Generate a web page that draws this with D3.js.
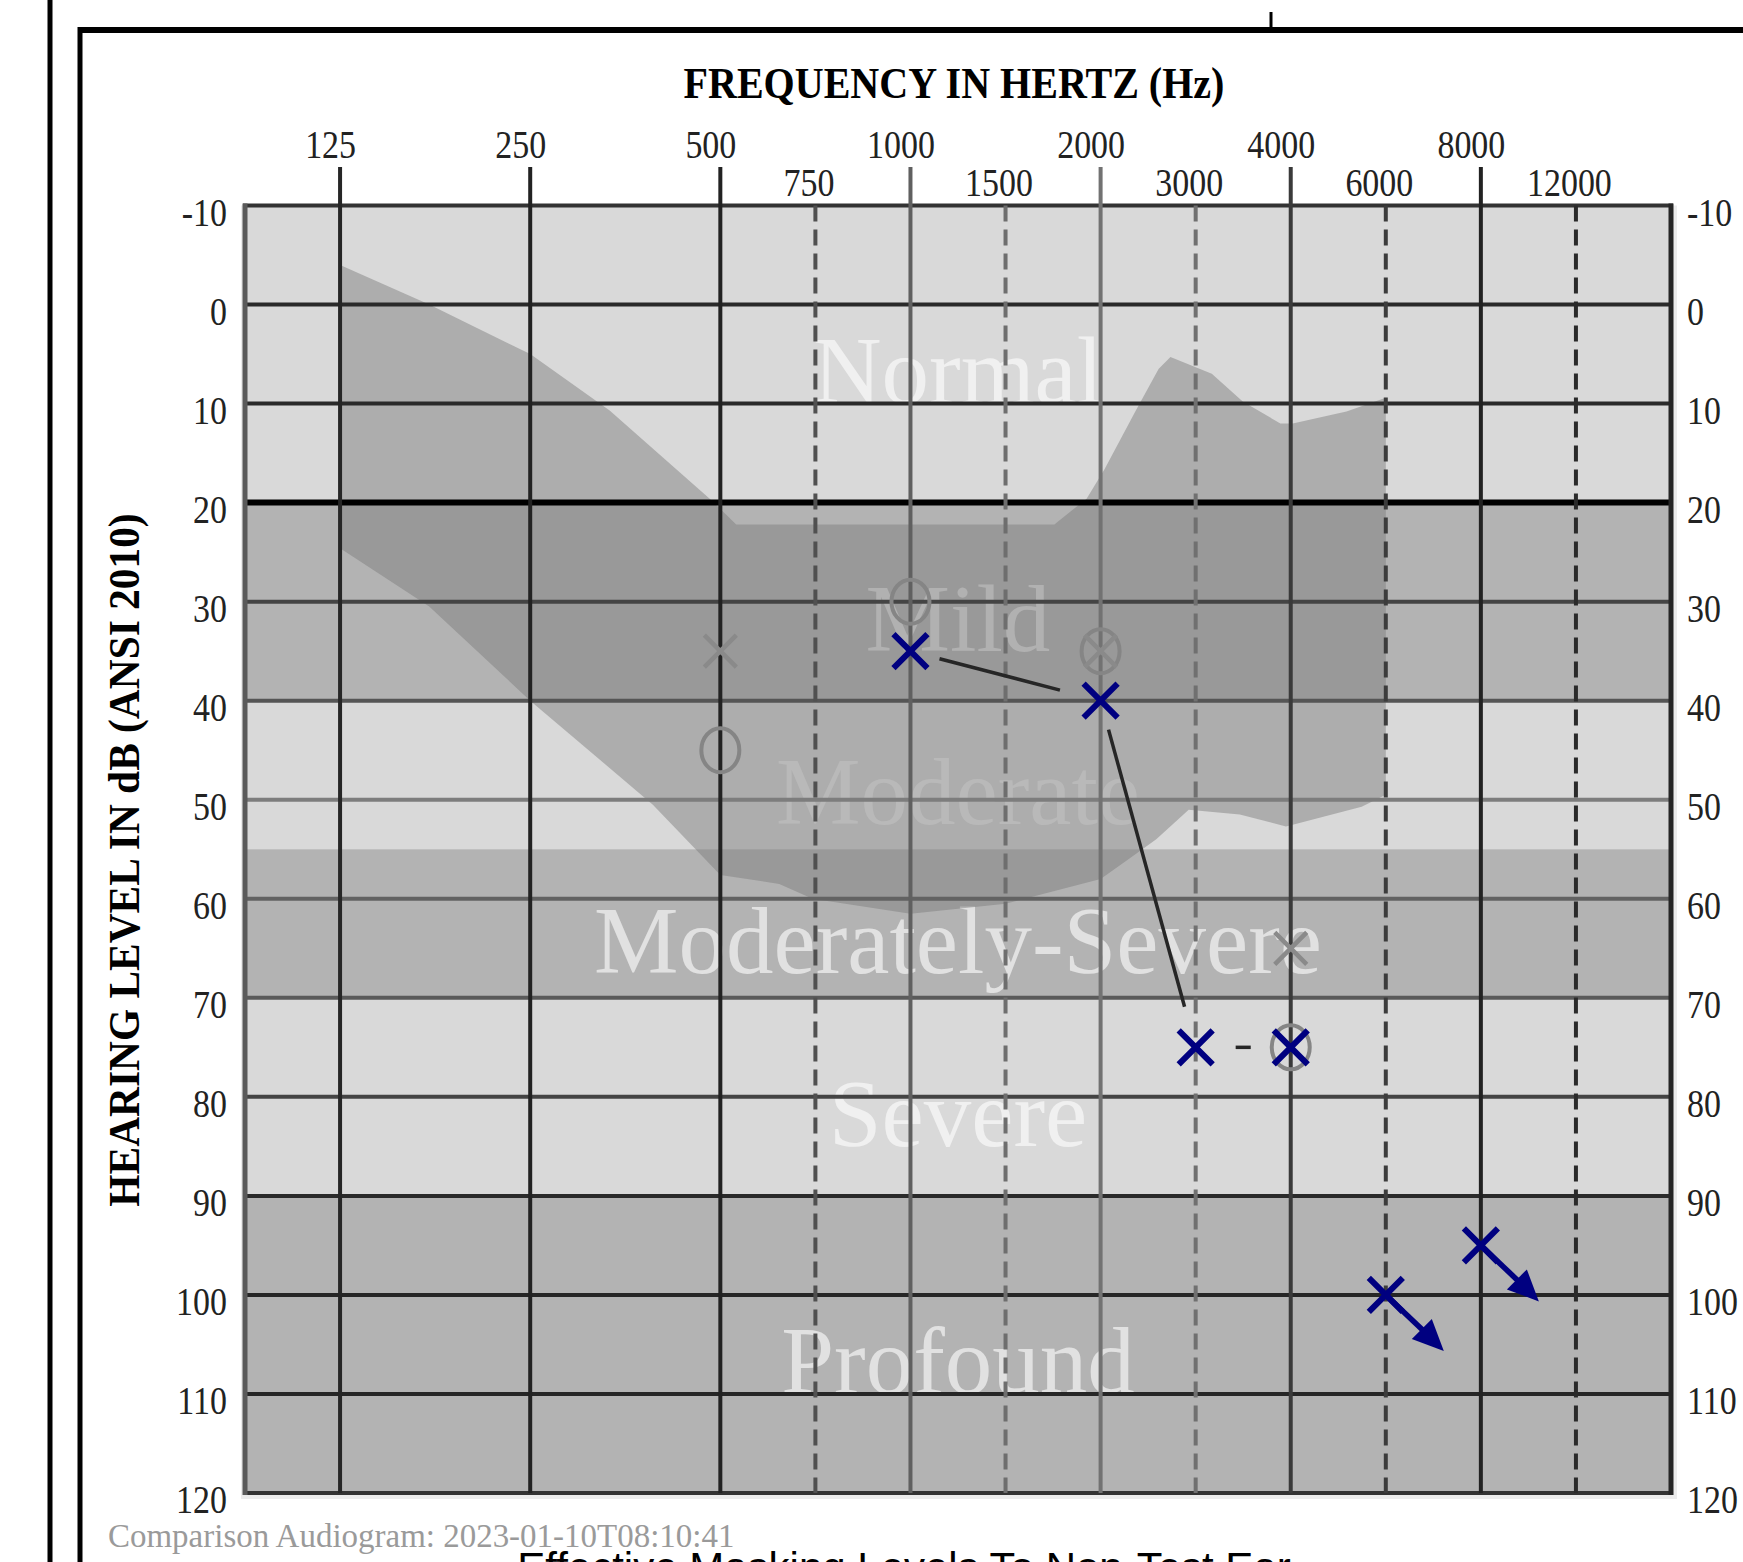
<!DOCTYPE html>
<html>
<head>
<meta charset="utf-8">
<script src="https://cdn.jsdelivr.net/npm/d3@7"></script>
<style>
  body { margin: 0; background: #fff; }
  svg { display: block; }
</style>
</head>
<body>
<div id="chart"></div>
<script>
// frequency ticks (Hz)
const octaveFreqs = [125, 250, 500, 1000, 2000, 4000, 8000];
const midFreqs = [750, 1500, 3000, 6000, 12000];
// hearing level ticks (dB)
const dbTicks = [-10, 0, 10, 20, 30, 40, 50, 60, 70, 80, 90, 100, 110, 120];

// degree of loss bands
const bandNames = ["Normal", "Mild", "Moderate", "Moderately-Severe", "Severe", "Profound"];
const bandEdges = [-10, 20, 40, 55, 70, 90, 120];

// speech banana outline
const bananaUpperHz = [125, 173, 250, 334, 481, 535, 1739, 1833, 1917, 2035, 2319, 2561, 2694, 3150, 3459, 3876, 4035, 5074, 6000];
const bananaUpperDb = [-4, 0, 5, 10.7, 19.6, 22.2, 22.2, 20.8, 19.6, 16.6, 10.8, 6.5, 5.3, 7, 9.8, 12, 12, 10.8, 9.4];
const bananaLowerHz = [125, 173, 250, 391, 500, 643, 741, 1000, 1500, 2000, 2252, 2536, 2912, 3429, 3943, 5413, 6000];
const bananaLowerDb = [24.6, 30.5, 40, 50.5, 57.6, 58.5, 60, 61.5, 60.5, 58, 56, 54, 51, 51.5, 52.7, 50.7, 49.5];

// current test, left ear air (X)
const leftFreqs = [1000, 2000, 3000, 4000, 6000, 8000];
const leftDb = [35, 40, 75, 75, 100, 95];
const leftNoResponse = [false, false, false, false, true, true];
const leftJoin = ["solid", "solid", "dashed", "none", "none"];

// comparison audiogram
const cmpXFreqs = [500, 2000, 4000];
const cmpXDb = [35, 35, 65];
const cmpOFreqs = [500, 1000, 2000, 4000];
const cmpODb = [45, 30, 35, 75];

const comparisonText = "Comparison Audiogram: 2023-01-10T08:10:41";
const maskingText = "Effective Masking Levels To Non-Test Ear";

const W = 1743, H = 1562;
const serif = "'Liberation Serif', 'Times New Roman', serif";
const plot = {left: 245, right: 1671, top: 205.5, bottom: 1493};

const svg = d3.select("#chart").append("svg")
    .attr("width", W)
    .attr("height", H);

// audiogram frequency axis: octaves evenly spaced, inter-octave lines half way
const octW = (plot.right - plot.left) / 7.5;
const xStops = [125 / Math.SQRT2].concat(octaveFreqs, midFreqs, [16000]).sort((a, b) => a - b);
const xPos = xStops.map(f => {
    const isMid = midFreqs.includes(f);
    const o = isMid ? Math.log2(f / 1.5 / 125) + 1.0 : Math.log2(f / 125) + 0.5;
    return plot.left + o * octW;
});
const x = d3.scaleLog().base(2)
    .domain(xStops)
    .range(xPos);

const y = d3.scaleLinear()
    .domain([-10, 120])
    .range([plot.top, plot.bottom]);

// page frame
svg.append("line").attr("x1", 50).attr("x2", 50).attr("y1", 0).attr("y2", H)
    .attr("stroke", "#000").attr("stroke-width", 5);
svg.append("line").attr("x1", 78).attr("x2", W).attr("y1", 30).attr("y2", 30)
    .attr("stroke", "#000").attr("stroke-width", 6);
svg.append("line").attr("x1", 80).attr("x2", 80).attr("y1", 27).attr("y2", H)
    .attr("stroke", "#000").attr("stroke-width", 5);
svg.append("line").attr("x1", 1271).attr("x2", 1271).attr("y1", 12).attr("y2", 30)
    .attr("stroke", "#000").attr("stroke-width", 3);

// faint halo round the plot
svg.append("rect")
    .attr("x", plot.left - 4).attr("y", plot.top)
    .attr("width", plot.right - plot.left + 10).attr("height", plot.bottom - plot.top + 6)
    .attr("fill", "#ececec");

// bands
const bands = bandNames.map((n, i) => ({name: n, lo: bandEdges[i], hi: bandEdges[i + 1]}));
svg.append("g").selectAll("rect")
    .data(bands)
    .enter().append("rect")
    .attr("x", plot.left)
    .attr("width", plot.right - plot.left)
    .attr("y", d => y(d.lo))
    .attr("height", d => y(d.hi) - y(d.lo))
    .attr("fill", (d, i) => i % 2 ? "#b3b3b3" : "#d9d9d9");

// band labels
svg.append("g").selectAll("text")
    .data(bands)
    .enter().append("text")
    .attr("x", (plot.left + plot.right) / 2)
    .attr("y", d => y((d.lo + d.hi) / 2) + 49)
    .attr("text-anchor", "middle")
    .style("font-family", serif)
    .style("font-size", "95px")
    .attr("fill", "#fff")
    .attr("fill-opacity", 0.6)
    .text(d => d.name);

// speech banana
const bananaPts = bananaUpperHz.map((f, i) => [x(f), y(bananaUpperDb[i])])
    .concat(bananaLowerHz.map((f, i) => [x(f), y(bananaLowerDb[i])]).reverse());
svg.append("path")
    .attr("d", d3.line().curve(d3.curveLinearClosed)(bananaPts))
    .attr("fill", "#7c7c7c")
    .attr("fill-opacity", 0.47);

// grid
const vColor = {125: "#262626", 250: "#222", 500: "#222", 1000: "#606060", 2000: "#727272",
    4000: "#3a3a3a", 8000: "#222", 750: "#505050", 1500: "#6e6e6e", 3000: "#707070",
    6000: "#3c3c3c", 12000: "#2a2a2a"};
const hColor = {"-10": "#333", 0: "#2a2a2a", 10: "#2a2a2a", 20: "#000", 30: "#444", 40: "#555",
    50: "#7d7d7d", 60: "#626262", 70: "#5a5a5a", 80: "#444", 90: "#2a2a2a", 100: "#262626",
    110: "#262626", 120: "#333"};

const grid = svg.append("g");
grid.selectAll(".hline")
    .data(dbTicks)
    .enter().append("line")
    .attr("x1", plot.left - 2).attr("x2", plot.right + 2)
    .attr("y1", d => y(d)).attr("y2", d => y(d))
    .attr("stroke", d => hColor[d])
    .attr("stroke-width", d => d === 20 ? 6 : 4);

grid.selectAll(".mline")
    .data(midFreqs)
    .enter().append("line")
    .attr("x1", d => x(d)).attr("x2", d => x(d))
    .attr("y1", plot.top).attr("y2", plot.bottom)
    .attr("stroke", d => vColor[d])
    .attr("stroke-width", 4)
    .attr("stroke-dasharray", "16,8");

grid.selectAll(".oline")
    .data(octaveFreqs)
    .enter().append("line")
    .attr("x1", d => x(d)).attr("x2", d => x(d))
    .attr("y1", 167).attr("y2", plot.bottom)
    .attr("stroke", d => vColor[d])
    .attr("stroke-width", 4);

// plot edges
grid.append("line").attr("x1", plot.left).attr("x2", plot.left)
    .attr("y1", plot.top - 2).attr("y2", plot.bottom + 2)
    .attr("stroke", "#5a5a5a").attr("stroke-width", 5);
grid.append("line").attr("x1", plot.right).attr("x2", plot.right)
    .attr("y1", plot.top - 2).attr("y2", plot.bottom + 2)
    .attr("stroke", "#262626").attr("stroke-width", 5);

// axes (labels only)
function styleAxis(g, sx) {
    g.select(".domain").remove();
    g.attr("font-family", serif).attr("font-size", 39).attr("color", "#222");
    g.selectAll("text").attr("transform", `scale(${sx},1)`);
}

svg.append("g")
    .attr("transform", "translate(-10,158)")
    .call(d3.axisTop(x).tickValues(octaveFreqs).tickFormat(d => d).tickSize(0).tickPadding(0))
    .call(g => styleAxis(g, 0.87));

svg.append("g")
    .attr("transform", "translate(-7,196)")
    .call(d3.axisTop(x).tickValues(midFreqs).tickFormat(d => d).tickSize(0).tickPadding(0))
    .call(g => styleAxis(g, 0.87));

svg.append("g")
    .attr("transform", "translate(227,0)")
    .call(d3.axisLeft(y).tickValues(dbTicks).tickFormat(d => d).tickSize(0).tickPadding(0))
    .call(g => styleAxis(g, 0.87))
    .call(g => g.selectAll("text").attr("dy", "0.5em"));

svg.append("g")
    .attr("transform", "translate(1687,0)")
    .call(d3.axisRight(y).tickValues(dbTicks).tickFormat(d => d).tickSize(0).tickPadding(0))
    .call(g => styleAxis(g, 0.87))
    .call(g => g.selectAll("text").attr("dy", "0.5em"));

// titles
svg.append("text")
    .attr("transform", `translate(${(plot.left + plot.right) / 2 - 4},98) scale(0.89,1)`)
    .attr("text-anchor", "middle")
    .style("font-family", serif)
    .style("font-size", "45px")
    .style("font-weight", "bold")
    .text("FREQUENCY IN HERTZ (Hz)");

svg.append("text")
    .attr("transform", "translate(139,860) rotate(-90) scale(0.92,1)")
    .attr("text-anchor", "middle")
    .style("font-family", serif)
    .style("font-size", "45px")
    .style("font-weight", "bold")
    .text("HEARING LEVEL IN dB (ANSI 2010)");

// markers
function drawX(g, cx, cy, r, color, w) {
    g.append("path")
        .attr("d", `M${cx - r},${cy - r}L${cx + r},${cy + r}M${cx - r},${cy + r}L${cx + r},${cy - r}`)
        .attr("fill", "none")
        .attr("stroke", color)
        .attr("stroke-width", w);
}

const marks = svg.append("g");

cmpOFreqs.forEach((f, i) => {
    marks.append("ellipse")
        .attr("cx", x(f)).attr("cy", y(cmpODb[i]))
        .attr("rx", 19).attr("ry", 22)
        .attr("fill", "none")
        .attr("stroke", "#858585")
        .attr("stroke-width", 4);
});
cmpXFreqs.forEach((f, i) => drawX(marks, x(f), y(cmpXDb[i]), 16, "#8a8a8a", 4.5));

// connecting lines
leftJoin.forEach((kind, i) => {
    if (kind === "none") return;
    const x0 = x(leftFreqs[i]), y0 = y(leftDb[i]);
    const x1 = x(leftFreqs[i + 1]), y1 = y(leftDb[i + 1]);
    const L = Math.hypot(x1 - x0, y1 - y0);
    const ux = (x1 - x0) / L, uy = (y1 - y0) / L;
    const g0 = kind === "dashed" ? 40 : 30, g1 = kind === "dashed" ? 40 : 42;
    marks.append("line")
        .attr("x1", x0 + ux * g0).attr("y1", y0 + uy * g0)
        .attr("x2", x1 - ux * g1).attr("y2", y1 - uy * g1)
        .attr("stroke", "#262626")
        .attr("stroke-width", 3.5)
        .attr("stroke-dasharray", kind === "dashed" ? "16,10" : null);
});

const navy = "#000080";
leftFreqs.forEach((f, i) => {
    const cx = x(f), cy = y(leftDb[i]);
    drawX(marks, cx, cy, 17, navy, 6);
    if (leftNoResponse[i]) {
        marks.append("line")
            .attr("x1", cx).attr("y1", cy)
            .attr("x2", cx + 40).attr("y2", cy + 38)
            .attr("stroke", navy).attr("stroke-width", 5.5);
        const tx = cx + 58, ty = cy + 56, bx = cx + 36, by = cy + 34;
        marks.append("polygon")
            .attr("points", `${tx},${ty} ${bx + 10},${by - 10} ${bx - 10},${by + 10}`)
            .attr("fill", navy);
    }
});

// footer texts
svg.append("text")
    .attr("transform", "translate(108,1547) scale(0.97,1)")
    .style("font-family", serif)
    .style("font-size", "34px")
    .attr("fill", "#9a9a9a")
    .text(comparisonText);

svg.append("text")
    .attr("x", 904).attr("y", 1582)
    .attr("text-anchor", "middle")
    .style("font-family", "'Liberation Sans', Arial, sans-serif")
    .style("font-size", "42px")
    .attr("fill", "#000")
    .text(maskingText);
</script>
</body>
</html>
